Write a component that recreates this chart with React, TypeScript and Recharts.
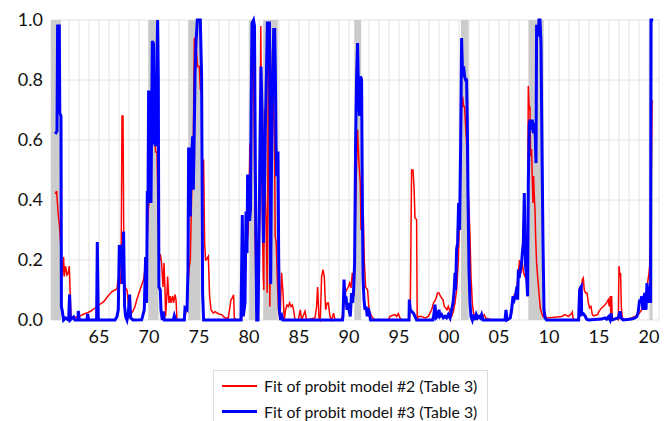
import { LineChart, Line, XAxis, YAxis, CartesianGrid, ReferenceArea } from 'recharts';

// fitted recession probabilities, [year, probability]
const probit2: [number, number][] = [
  [1960.63, 0.42], [1960.76, 0.43], [1960.93, 0.35], [1961.06, 0.31], [1961.2, 0.235], [1961.33, 0.145],
  [1961.46, 0.21], [1961.53, 0.145], [1961.66, 0.18], [1961.8, 0.15], [1961.93, 0.157], [1962.03, 0.18],
  [1962.1, 0.107], [1962.2, 0.012], [1962.5, 0.008], [1963.0, 0.012], [1963.5, 0.02], [1963.9, 0.025],
  [1964.2, 0.03], [1964.6, 0.04], [1965.0, 0.05], [1965.5, 0.062], [1965.9, 0.08], [1966.3, 0.095],
  [1966.6, 0.1], [1966.8, 0.105], [1966.9, 0.135], [1967.06, 0.145], [1967.2, 0.12], [1967.3, 0.68],
  [1967.4, 0.68], [1967.5, 0.145], [1967.6, 0.11], [1967.8, 0.1], [1968.0, 0.035], [1968.2, 0.02],
  [1968.4, 0.03], [1968.6, 0.045], [1968.8, 0.07], [1969.1, 0.1], [1969.3, 0.12], [1969.46, 0.135],
  [1969.6, 0.17], [1969.76, 0.2], [1969.93, 0.37], [1970.0, 0.39], [1970.2, 0.68], [1970.4, 0.9],
  [1970.53, 0.67], [1970.66, 0.56], [1970.8, 0.56], [1970.93, 0.3], [1971.06, 0.2], [1971.13, 0.22],
  [1971.26, 0.19], [1971.4, 0.11], [1971.5, 0.19], [1971.6, 0.1], [1971.66, 0.012], [1971.8, 0.09],
  [1971.86, 0.145], [1972.0, 0.057], [1972.1, 0.08], [1972.2, 0.057], [1972.26, 0.068], [1972.36, 0.08],
  [1972.46, 0.057], [1972.6, 0.085], [1972.7, 0.068], [1972.8, 0], [1973.53, 0], [1973.76, 0.035],
  [1974.0, 0.17], [1974.13, 0.2], [1974.26, 0.41], [1974.43, 0.59], [1974.53, 0.94], [1974.66, 0.93],
  [1974.86, 0.845], [1975.03, 0.845], [1975.13, 0.77], [1975.26, 0.76], [1975.36, 0.457], [1975.46, 0.535],
  [1975.56, 0.257], [1975.66, 0.2], [1975.83, 0.206], [1975.93, 0.212], [1976.06, 0.08], [1976.2, 0.034],
  [1976.43, 0.023], [1976.6, 0.028], [1976.93, 0.021], [1977.26, 0.018], [1977.6, 0.007], [1977.93, 0.007],
  [1978.2, 0.068], [1978.33, 0.073], [1978.46, 0.084], [1978.53, 0.007], [1978.76, 0], [1979.26, 0],
  [1979.53, 0.09], [1979.76, 0.235], [1979.93, 0.3], [1980.1, 0.59], [1980.2, 0.41], [1980.3, 0.95],
  [1980.4, 0.91], [1980.5, 0.7], [1980.62, 0.26], [1980.72, 0.035], [1980.82, 0], [1980.95, 0.145],
  [1981.08, 0.37], [1981.18, 0.98], [1981.28, 0.48], [1981.42, 0.145], [1981.48, 0.1], [1981.55, 0.7],
  [1981.62, 0.42], [1981.72, 0.32], [1981.82, 0.09], [1981.96, 0.98], [1982.08, 0.045], [1982.22, 0.48],
  [1982.35, 0.9], [1982.45, 0.7], [1982.55, 0.61], [1982.62, 0.28], [1982.72, 0.257], [1982.82, 0.145],
  [1982.95, 0.034], [1983.1, 0], [1983.26, 0.157], [1983.4, 0.09], [1983.53, 0], [1983.66, 0.034],
  [1983.8, 0.05], [1983.93, 0.045], [1984.06, 0.057], [1984.2, 0.045], [1984.33, 0.05], [1984.46, 0.034],
  [1984.6, 0], [1984.93, 0], [1985.13, 0.034], [1985.26, 0], [1985.6, 0.029], [1985.76, 0],
  [1986.6, 0.007], [1986.76, 0.045], [1986.86, 0.11], [1987.0, 0.007], [1987.13, 0], [1987.26, 0.145],
  [1987.4, 0.168], [1987.53, 0.145], [1987.66, 0.034], [1987.8, 0.057], [1987.93, 0.057], [1988.1, 0.012],
  [1988.26, 0], [1988.46, 0.023], [1988.6, 0], [1989.26, 0], [1989.43, 0.034], [1989.6, 0.09],
  [1989.76, 0.1], [1989.93, 0.11], [1990.06, 0.123], [1990.2, 0.107], [1990.33, 0.157], [1990.4, 0.145],
  [1990.5, 0.08], [1990.6, 0.257], [1990.73, 0.48], [1990.86, 0.634], [1991.0, 0.52], [1991.13, 0.457],
  [1991.2, 0.3], [1991.33, 0.32], [1991.43, 0.345], [1991.53, 0.2], [1991.66, 0.11], [1991.86, 0.1],
  [1992.0, 0.034], [1992.26, 0.012], [1992.6, 0], [1993.93, 0], [1994.1, 0.012], [1994.26, 0.014],
  [1994.6, 0.018], [1994.76, 0.012], [1994.93, 0.021], [1995.1, 0.007], [1995.26, 0], [1996.03, 0],
  [1996.13, 0.034], [1996.26, 0.5], [1996.4, 0.5], [1996.5, 0.446], [1996.6, 0.34], [1996.76, 0.335],
  [1996.82, 0], [1996.93, 0.012], [1997.26, 0.012], [1997.6, 0.007], [1997.93, 0.012], [1998.26, 0.034],
  [1998.46, 0.057], [1998.66, 0.068], [1998.86, 0.09], [1999.0, 0.09], [1999.13, 0.08], [1999.26, 0.073],
  [1999.4, 0.068], [1999.53, 0.045], [1999.66, 0.04], [1999.8, 0.034], [1999.93, 0.045], [2000.1, 0.028],
  [2000.26, 0.012], [2000.43, 0.028], [2000.6, 0.057], [2000.76, 0.1], [2000.93, 0.2], [2001.06, 0.345],
  [2001.16, 0.534], [2001.26, 0.7], [2001.36, 0.745], [2001.46, 0.712], [2001.56, 0.712], [2001.66, 0.645],
  [2001.76, 0.59], [2001.86, 0.48], [2002.0, 0.37], [2002.1, 0.28], [2002.2, 0.145], [2002.33, 0.057],
  [2002.43, 0.029], [2002.53, 0.012], [2002.8, 0.014], [2003.26, 0.007], [2003.53, 0.018], [2003.66, 0.007],
  [2004.26, 0], [2005.93, 0], [2006.13, 0.012], [2006.26, 0.023], [2006.4, 0.068], [2006.53, 0.084],
  [2006.66, 0.08], [2006.8, 0.112], [2006.93, 0.157], [2007.06, 0.2], [2007.13, 0.18], [2007.2, 0.157],
  [2007.33, 0.19], [2007.46, 0.157], [2007.6, 0.145], [2007.73, 0.168], [2007.86, 0.312], [2007.93, 0.78],
  [2008.03, 0.7], [2008.1, 0.712], [2008.16, 0.546], [2008.26, 0.57], [2008.33, 0.468], [2008.4, 0.39],
  [2008.46, 0.48], [2008.53, 0.412], [2008.6, 0.367], [2008.66, 0.28], [2008.76, 0.19], [2008.86, 0.145],
  [2009.0, 0.09], [2009.13, 0.04], [2009.26, 0.023], [2009.4, 0.012], [2009.6, 0.018], [2009.76, 0.007],
  [2011.26, 0.012], [2011.6, 0.018], [2011.93, 0.012], [2012.13, 0.018], [2012.26, 0.021], [2012.33, 0.026],
  [2012.43, 0], [2013.0, 0.001], [2013.06, 0.1], [2013.2, 0.09], [2013.33, 0.134], [2013.43, 0.14],
  [2013.53, 0.1], [2013.66, 0.09], [2013.8, 0.09], [2013.93, 0.057], [2014.06, 0.04], [2014.2, 0.045],
  [2014.33, 0.018], [2014.46, 0.014], [2014.86, 0.018], [2015.0, 0.029], [2015.26, 0.04], [2015.43, 0.045],
  [2015.6, 0.051], [2015.76, 0.057], [2015.93, 0.068], [2016.03, 0.045], [2016.13, 0.08], [2016.2, 0],
  [2016.26, 0.08], [2016.33, 0.001], [2016.76, 0.007], [2016.93, 0.001], [2017.0, 0.18], [2017.1, 0.145],
  [2017.16, 0.157], [2017.23, 0.045], [2017.33, 0.007], [2017.6, 0], [2018.26, 0.007], [2018.6, 0.012],
  [2018.93, 0.018], [2019.26, 0.034], [2019.6, 0.068], [2019.86, 0.123], [2020.0, 0.157], [2020.1, 0.19],
  [2020.2, 0.368], [2020.3, 0.729], [2020.42, 0.729],
];

const probit3: [number, number][] = [
  [1960.63, 0.62], [1960.8, 0.63], [1960.86, 0.98], [1961.03, 0.98], [1961.08, 0.69], [1961.2, 0.68],
  [1961.24, 0.045], [1961.33, 0.03], [1961.46, 0], [1961.66, 0.007], [1961.96, 0], [1962.06, 0.085],
  [1962.13, 0], [1962.46, 0.01], [1962.6, 0], [1962.9, 0], [1962.93, 0.03], [1963.03, 0],
  [1963.8, 0], [1963.86, 0.02], [1963.96, 0], [1964.76, 0], [1964.83, 0.26], [1964.93, 0],
  [1966.6, 0], [1966.8, 0.012], [1966.93, 0.035], [1967.03, 0.25], [1967.16, 0.22], [1967.26, 0.25],
  [1967.36, 0.12], [1967.46, 0.295], [1967.56, 0.045], [1967.66, 0.012], [1967.8, 0], [1967.93, 0.023],
  [1968.06, 0.085], [1968.16, 0.007], [1968.4, 0], [1969.26, 0.001], [1969.36, 0.012], [1969.53, 0.035],
  [1969.66, 0.21], [1969.76, 0.057], [1969.83, 0.43], [1969.9, 0.39], [1969.96, 0.76], [1970.08, 0.76],
  [1970.2, 0.39], [1970.33, 0.93], [1970.46, 0.92], [1970.53, 0.59], [1970.66, 0.58], [1970.76, 0.76],
  [1970.86, 1.0], [1970.93, 0.81], [1970.99, 0.11], [1971.13, 0.1], [1971.2, 0.034], [1971.33, 0],
  [1971.43, 0.029], [1971.53, 0], [1972.43, 0], [1972.53, 0.014], [1972.66, 0], [1973.53, 0],
  [1973.6, 0.04], [1973.8, 0.034], [1973.9, 0.17], [1973.96, 0.57], [1974.06, 0.57], [1974.13, 0.345],
  [1974.2, 0.557], [1974.3, 0.557], [1974.36, 0.612], [1974.43, 0.434], [1974.5, 0.568], [1974.6, 0.812],
  [1974.7, 0.923], [1974.83, 1.0], [1975.13, 1.0], [1975.26, 0.812], [1975.36, 0.09], [1975.46, 0],
  [1979.2, 0], [1979.23, 0.09], [1979.33, 0.35], [1979.43, 0.012], [1979.6, 0.057], [1979.7, 0.362],
  [1979.8, 0.223], [1979.86, 0.48], [1979.96, 0.48], [1980.06, 0.33], [1980.15, 0.37], [1980.22, 0.72],
  [1980.3, 0.99], [1980.45, 1.0], [1980.55, 0.98], [1980.64, 0.48], [1980.7, 0.257], [1980.77, 0],
  [1980.9, 0], [1981.0, 0.257], [1981.1, 0.59], [1981.2, 0.845], [1981.3, 0.7], [1981.37, 0.479],
  [1981.44, 0.257], [1981.5, 0.368], [1981.57, 0.479], [1981.64, 0.645], [1981.74, 0.812], [1981.84, 0.99],
  [1982.04, 0.99], [1982.1, 0.7], [1982.17, 0.12], [1982.24, 0.479], [1982.37, 0.812], [1982.47, 0.968],
  [1982.57, 0.968], [1982.64, 0.812], [1982.7, 0.59], [1982.77, 0.479], [1982.84, 0.557], [1982.9, 0.557],
  [1982.97, 0.2], [1983.04, 0.034], [1983.17, 0], [1983.3, 0.012], [1983.4, 0], [1989.35, 0],
  [1989.4, 0.012], [1989.5, 0.135], [1989.6, 0.068], [1989.7, 0.079], [1989.8, 0.034], [1989.93, 0.057],
  [1990.03, 0.029], [1990.13, 0.012], [1990.26, 0.09], [1990.36, 0.057], [1990.46, 0.1], [1990.56, 0.19],
  [1990.66, 0.59], [1990.76, 0.812], [1990.86, 0.923], [1990.96, 0.72], [1991.06, 0.68], [1991.16, 0.812],
  [1991.26, 0.8], [1991.33, 0.423], [1991.4, 0.145], [1991.5, 0.068], [1991.6, 0.034], [1991.7, 0.045],
  [1991.83, 0.012], [1991.93, 0.04], [1992.03, 0.023], [1992.16, 0], [1996.0, 0], [1996.03, 0.068],
  [1996.13, 0.034], [1996.26, 0.029], [1996.43, 0.023], [1996.6, 0.012], [1996.76, 0], [1998.36, 0],
  [1998.46, 0.012], [1998.6, 0.051], [1998.7, 0.007], [1998.86, 0.012], [1999.0, 0.034], [1999.1, 0.012],
  [1999.26, 0.018], [1999.43, 0.007], [1999.6, 0.012], [1999.76, 0.007], [1999.93, 0.018], [2000.1, 0.007],
  [2000.26, 0.034], [2000.4, 0.057], [2000.5, 0.09], [2000.6, 0.157], [2000.66, 0.1], [2000.76, 0.235],
  [2000.86, 0.257], [2000.96, 0.39], [2001.06, 0.3], [2001.16, 0.57], [2001.26, 0.94], [2001.36, 0.812],
  [2001.46, 0.845], [2001.56, 0.812], [2001.66, 0.8], [2001.76, 0.8], [2001.83, 0.668], [2001.9, 0.412],
  [2002.0, 0.168], [2002.1, 0.057], [2002.2, 0.012], [2002.33, 0], [2002.46, 0.018], [2002.6, 0],
  [2002.73, 0.018], [2002.86, 0.007], [2003.0, 0.012], [2003.13, 0.007], [2003.26, 0.018], [2003.4, 0],
  [2005.6, 0], [2005.7, 0.034], [2005.8, 0], [2006.13, 0.007], [2006.26, 0.034], [2006.4, 0.079],
  [2006.53, 0.068], [2006.66, 0.084], [2006.8, 0.112], [2006.86, 0.068], [2006.93, 0.157], [2007.06, 0.151],
  [2007.13, 0.168], [2007.26, 0.19], [2007.33, 0.223], [2007.43, 0.257], [2007.53, 0.423], [2007.6, 0.257],
  [2007.66, 0.179], [2007.76, 0.145], [2007.86, 0.079], [2007.93, 0.457], [2008.03, 0.657], [2008.13, 0.668],
  [2008.23, 0.634], [2008.33, 0.668], [2008.43, 0.623], [2008.53, 0.657], [2008.63, 0.612], [2008.7, 0.523],
  [2008.76, 0.984], [2008.86, 0.968], [2008.93, 0.945], [2009.0, 1.0], [2009.1, 1.0], [2009.2, 0.923],
  [2009.3, 0.568], [2009.4, 0.257], [2009.5, 0.034], [2009.6, 0.007], [2009.76, 0], [2012.96, 0],
  [2013.06, 0.1], [2013.13, 0.107], [2013.23, 0.112], [2013.26, 0.018], [2013.43, 0.021], [2013.6, 0.014],
  [2013.76, 0.003], [2013.93, 0], [2015.26, 0.003], [2015.6, 0.007], [2015.76, 0.003], [2015.93, 0.01],
  [2016.1, 0], [2016.2, 0.023], [2016.26, 0], [2016.93, 0.007], [2017.1, 0.029], [2017.2, 0.007],
  [2017.43, 0], [2018.26, 0.003], [2018.6, 0.007], [2018.8, 0.012], [2018.93, 0.029], [2019.06, 0.068],
  [2019.16, 0.057], [2019.26, 0.079], [2019.4, 0.034], [2019.5, 0.079], [2019.6, 0.09], [2019.7, 0.034],
  [2019.8, 0.123], [2019.86, 0.09], [2019.93, 0.112], [2020.0, 0.057], [2020.1, 0.079], [2020.16, 0.057],
  [2020.2, 1.0], [2020.42, 1.0],
];

// shaded recession periods [start, end]
const recessions: [number, number][] = [
  [1960.2, 1961.2], [1969.93, 1970.93], [1973.93, 1975.15], [1980.03, 1980.6], [1981.42, 1982.88],
  [1990.53, 1991.22], [2001.2, 2001.95], [2007.95, 2009.47], [2020.07, 2020.36],
];

const yearTicks = Array.from({ length: 60 }, (_, i) => 1961 + i);
const yTicks = [0, 0.2, 0.4, 0.6, 0.8, 1.0];

const legendItems = [
  { label: 'Fit of probit model #2 (Table 3)', color: '#ff0000', width: 2 },
  { label: 'Fit of probit model #3 (Table 3)', color: '#0000ff', width: 3.5 },
];

const toPoints = (rows: [number, number][]) => rows.map(([x, v]) => ({ x, v }));

const FONT = 'Lato, "Noto Sans", sans-serif';

export default function App() {
  return (
    <div style={{ position: 'relative', width: 664, height: 413, fontFamily: FONT }}>
      <LineChart width={660} height={345} margin={{ top: 12, right: 9, bottom: 0, left: 0 }}>
        <CartesianGrid stroke="#e2e2e2" strokeWidth={1} />
        <XAxis
          type="number"
          dataKey="x"
          domain={[1960.2, 2021]}
          ticks={yearTicks}
          interval={0}
          allowDataOverflow
          tickLine={false}
          axisLine={false}
          height={33}
          tickMargin={4}
          tick={{ fontSize: 18, fill: '#111', fontFamily: FONT }}
          tickFormatter={(y: number) => (y % 5 === 0 ? String(y % 100).padStart(2, '0') : '')}
        />
        <YAxis
          type="number"
          domain={[0, 1]}
          ticks={yTicks}
          width={43}
          tickLine={false}
          axisLine={false}
          tick={{ fontSize: 18, fill: '#111', fontFamily: FONT }}
          tickFormatter={(v: number) => v.toFixed(1)}
        />
        {recessions.map(([a, b]) => (
          <ReferenceArea key={a} x1={a} x2={b} y1={0} y2={1} fill="#cccccc" fillOpacity={1} stroke="none" />
        ))}
        <Line
          data={toPoints(probit2)}
          dataKey="v"
          type="linear"
          stroke="#ff0000"
          strokeWidth={1.5}
          dot={false}
          isAnimationActive={false}
        />
        <Line
          data={toPoints(probit3)}
          dataKey="v"
          type="linear"
          stroke="#0000ff"
          strokeWidth={3}
          dot={false}
          isAnimationActive={false}
        />
      </LineChart>
      <div
        style={{
          position: 'absolute',
          left: 205,
          top: 362,
          width: 275,
          height: 51,
          border: '1px solid #dcdcdc',
          borderBottom: 'none',
          boxSizing: 'border-box',
          paddingTop: 2,
        }}
      >
        {legendItems.map((item) => (
          <div key={item.label} style={{ display: 'flex', alignItems: 'center', height: 25.5 }}>
            <div style={{ width: 35, height: item.width, background: item.color, marginLeft: 8, marginRight: 7 }} />
            <span style={{ fontSize: 15.8, color: '#111', whiteSpace: 'nowrap' }}>{item.label}</span>
          </div>
        ))}
      </div>
    </div>
  );
}
